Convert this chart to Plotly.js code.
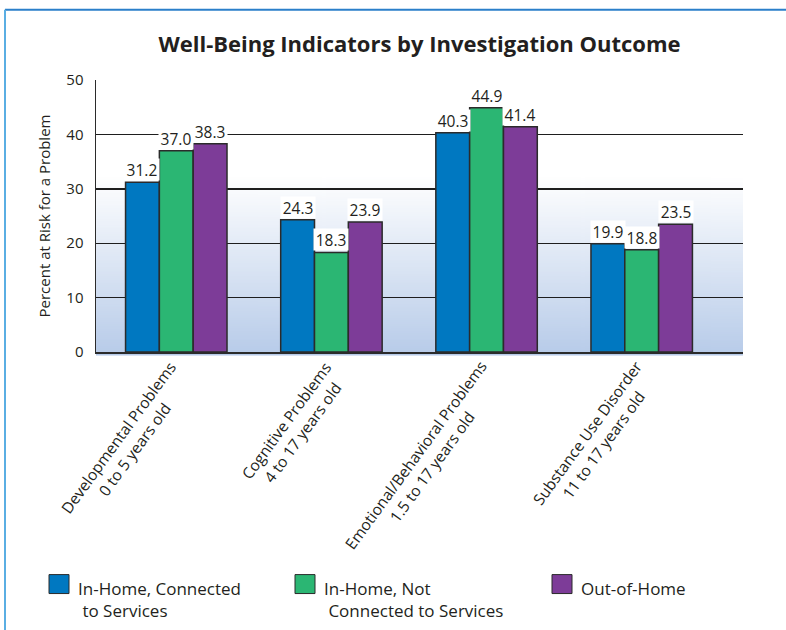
<!DOCTYPE html>
<html><head><meta charset="utf-8">
<script src="https://cdn.plot.ly/plotly-3.0.1.min.js"></script>
<style>html,body{margin:0;padding:0;background:#fff}#chart{width:786px;height:630px}</style>
</head><body><div id="chart"></div>
<script>
// ---- data ----
const categories = [
  "Developmental Problems<br>0 to 5 years old",
  "Cognitive Problems<br>4 to 17 years old",
  "Emotional/Behavioral Problems<br>1.5 to 17 years old",
  "Substance Use Disorder<br>11 to 17 years old"
];
const seriesNames = [
  "In-Home, Connected<br>&nbsp;to Services",
  "In-Home, Not<br>&nbsp;Connected to Services",
  "Out-of-Home"
];
const inHomeConnected = [31.2, 24.3, 40.3, 19.9];
const inHomeNotConnected = [37.0, 18.3, 44.9, 18.8];
const outOfHome = [38.3, 23.9, 41.4, 23.5];
const yTickValues = [0, 10, 20, 30, 40, 50];
const titleText = "Well-Being Indicators by Investigation Outcome";
const yTitleText = "Percent at Risk for a Problem";

// ---- styling ----
const colors = ["#0078c1", "#2bb673", "#7d3c98"];
const outline = "#2b2b2b";
const txt = "#231f20";
const FONT = "Open Sans, Noto Sans, sans-serif";
const series = [inHomeConnected, inHomeNotConnected, outOfHome];
const catIdx = categories.map((c, i) => i);
const bargap = 0.346;
const barW = (1 - bargap) / 3;
const legendSquareLeftPx = [49, 295, 552];

// gradient background image
const cv = document.createElement("canvas");
cv.width = 10; cv.height = 300;
const ctx = cv.getContext("2d");
const g = ctx.createLinearGradient(0, 0, 0, 300);
g.addColorStop(0, "#ffffff");
g.addColorStop(0.35, "#ffffff");
g.addColorStop(1, "#b7cbe9");
ctx.fillStyle = g; ctx.fillRect(0, 0, 10, 300);
const bgURL = cv.toDataURL();

const traces = series.map((vals, k) => ({
  type: "bar", x: catIdx, y: vals, name: seriesNames[k].replace(/<br>&nbsp;/, " "), showlegend: false,
  marker: {color: colors[k], line: {color: outline, width: 1.5}},
  hoverinfo: "y"
}));

const L = 96, R = 743, T = 79.5, B = 352;
const pw = R - L, ph = B - T;
const px2x = p => (p - L) / pw;
const px2y = p => (B - p) / ph;

const annotations = [];
series.forEach((vals, k) => vals.forEach((v, i) => annotations.push({
  xref: "x", yref: "y", x: i + (k - 1) * barW, y: v, text: v.toFixed(1),
  xanchor: "center", yanchor: "bottom", showarrow: false,
  width: 34, height: 21, bgcolor: "#ffffff", borderpad: 0, yshift: 1,
  font: {family: FONT, size: 15.5, color: txt}
})));
categories.forEach((c, i) => annotations.push({
  xref: "x", yref: "paper", x: i, y: 0, text: c, textangle: -54,
  xanchor: "right", yanchor: "top", xshift: 24, yshift: -2, showarrow: false,
  align: "center", font: {family: FONT, size: 15.5, color: txt}
}));

const shapes = [
  {type: "line", xref: "paper", yref: "paper", x0: px2x(5), x1: 2, y0: px2y(9), y1: px2y(9),
   line: {color: "#2b7fca", width: 2}},
  {type: "line", xref: "paper", yref: "paper", x0: px2x(5), x1: px2x(5), y0: px2y(9), y1: -2,
   line: {color: "#5aaee3", width: 2}}
];
// custom legend: key squares + labels
seriesNames.forEach((nm, k) => {
  const sx = legendSquareLeftPx[k];
  shapes.push({type: "rect", xref: "paper", yref: "paper",
    x0: px2x(sx), x1: px2x(sx + 20), y0: px2y(594), y1: px2y(575),
    fillcolor: colors[k], line: {color: outline, width: 1}});
  annotations.push({xref: "paper", yref: "paper", x: px2x(sx + 27), y: px2y(575),
    xanchor: "left", yanchor: "top", align: "left", showarrow: false, text: nm,
    font: {family: FONT, size: 17, color: txt}});
});

const layout = {
  width: 786, height: 630,
  margin: {l: L, r: 786 - R, t: T, b: 630 - B, pad: 0},
  paper_bgcolor: "#ffffff", plot_bgcolor: "#ffffff",
  font: {family: FONT, size: 15, color: txt},
  title: {text: "<b>" + titleText + "</b>", font: {family: FONT, size: 22, color: txt},
          xref: "paper", x: 0.5, xanchor: "center", y: 1 - 44 / 630, yanchor: "middle"},
  barmode: "group", bargap: bargap, bargroupgap: 0,
  xaxis: {range: [-0.5175, 3.653], tickvals: catIdx, showticklabels: false, ticks: "",
          showgrid: false, zeroline: false, showline: true, linecolor: "#2b2b2b", linewidth: 2,
          fixedrange: true},
  yaxis: {range: [0, 50.02], tickvals: yTickValues, ticks: "", ticklabelstandoff: 8,
          showgrid: true, gridcolor: "#1e1e1e", gridwidth: 1.3, zeroline: false,
          showline: true, linecolor: "#2b2b2b", linewidth: 1.5,
          tickfont: {family: FONT, size: 15, color: txt},
          title: {text: yTitleText, font: {family: FONT, size: 15, color: txt}, standoff: 12},
          automargin: false, fixedrange: true},
  showlegend: false,
  images: [{source: bgURL, xref: "paper", yref: "paper", x: 0, y: 1, sizex: 1, sizey: 1.013,
            sizing: "stretch", xanchor: "left", yanchor: "top", layer: "below"}],
  shapes: shapes,
  annotations: annotations
};
Plotly.newPlot("chart", traces, layout, {displayModeBar: false, staticPlot: true});
</script></body></html>
